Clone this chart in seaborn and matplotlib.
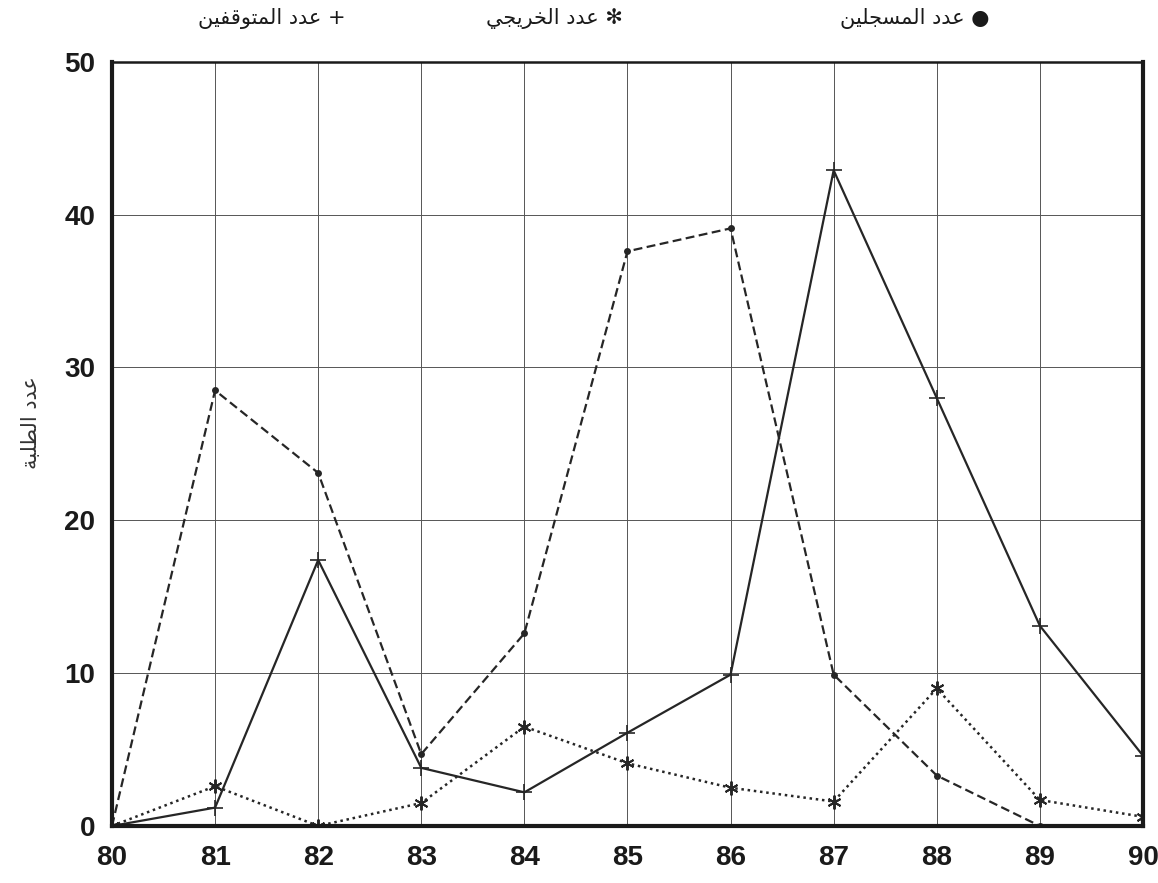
import numpy as np
import pandas as pd
import matplotlib
matplotlib.use("Agg")
import matplotlib.pyplot as plt
import seaborn as sns

# data
years = [80, 81, 82, 83, 84, 85, 86, 87, 88, 89, 90]
registered = [0, 28.5, 23.1, 4.7, 12.6, 37.6, 39.1, 9.9, 3.3, 0, np.nan]
graduates = [0, 2.6, 0, 1.5, 6.5, 4.1, 2.5, 1.6, 9.0, 1.7, 0.6]
dropouts = [0, 1.2, 17.4, 3.8, 2.2, 6.1, 9.9, 42.9, 28.0, 13.1, 4.6]

lbl_registered = "عدد المسجلين"
lbl_graduates = "عدد الخريجي"
lbl_dropouts = "عدد المتوقفين"
lbl_y = "عدد الطلبة"

# minimal arabic shaping (matplotlib has no text shaping)
FORMS = {
    "ا": (0xFE8D, 0xFE8E, None, None),
    "ب": (0xFE8F, 0xFE90, 0xFE91, 0xFE92),
    "ة": (0xFE93, 0xFE94, None, None),
    "ت": (0xFE95, 0xFE96, 0xFE97, 0xFE98),
    "ج": (0xFE9D, 0xFE9E, 0xFE9F, 0xFEA0),
    "خ": (0xFEA5, 0xFEA6, 0xFEA7, 0xFEA8),
    "د": (0xFEA9, 0xFEAA, None, None),
    "ر": (0xFEAD, 0xFEAE, None, None),
    "س": (0xFEB1, 0xFEB2, 0xFEB3, 0xFEB4),
    "ط": (0xFEC1, 0xFEC2, 0xFEC3, 0xFEC4),
    "ع": (0xFEC9, 0xFECA, 0xFECB, 0xFECC),
    "ف": (0xFED1, 0xFED2, 0xFED3, 0xFED4),
    "ق": (0xFED5, 0xFED6, 0xFED7, 0xFED8),
    "ل": (0xFEDD, 0xFEDE, 0xFEDF, 0xFEE0),
    "م": (0xFEE1, 0xFEE2, 0xFEE3, 0xFEE4),
    "ن": (0xFEE5, 0xFEE6, 0xFEE7, 0xFEE8),
    "و": (0xFEED, 0xFEEE, None, None),
    "ي": (0xFEF1, 0xFEF2, 0xFEF3, 0xFEF4),
}


def shape(s):
    out = []
    for i, c in enumerate(s):
        if c not in FORMS:
            out.append(c)
            continue
        prev = s[i - 1] if i > 0 else ""
        nxt = s[i + 1] if i + 1 < len(s) else ""
        jp = prev in FORMS and FORMS[prev][2] is not None
        jn = nxt in FORMS and FORMS[c][2] is not None
        iso, fin, ini, med = FORMS[c]
        if jp and jn:
            code = med
        elif jp:
            code = fin
        elif jn:
            code = ini
        else:
            code = iso
        out.append(chr(code))
    return "".join(out)[::-1]


sns.set_theme(style="white")
plt.rcParams["font.family"] = ["DejaVu Sans"]

df = pd.DataFrame({"year": years, "registered": registered,
                   "graduates": graduates, "dropouts": dropouts})

fig = plt.figure(figsize=(11.58, 8.83), dpi=100)
ax = fig.add_axes([0.0967, 0.0646, 0.8903, 0.8654])

ink = "#262626"
sns.lineplot(data=df, x="year", y="registered", ax=ax, color=ink, lw=1.6,
             linestyle=(0, (4, 2)), marker="o", markersize=5, markeredgewidth=0)
sns.lineplot(data=df, x="year", y="graduates", ax=ax, color=ink, lw=1.8,
             linestyle=(0, (1, 1.5)), marker=(6, 2, 0), markersize=10,
             markeredgewidth=1.4, markeredgecolor=ink)
sns.lineplot(data=df, x="year", y="dropouts", ax=ax, color=ink, lw=1.6,
             linestyle="-", marker="+", markersize=12, markeredgewidth=1.2,
             markeredgecolor=ink)

ax.set_xlim(80, 90)
ax.set_ylim(0, 50)
ax.set_xticks(years)
ax.set_yticks([0, 10, 20, 30, 40, 50])
ax.grid(True, color="#555555", lw=0.7)
ax.set_axisbelow(True)
for side, w in [("left", 3), ("bottom", 3), ("right", 3), ("top", 1.8)]:
    ax.spines[side].set_linewidth(w)
    ax.spines[side].set_color("#1a1a1a")
ax.tick_params(length=0, labelsize=20)
ax.tick_params(axis="x", pad=14)
ax.tick_params(axis="y", pad=12)
for t in ax.get_xticklabels() + ax.get_yticklabels():
    t.set_fontfamily("Liberation Sans")
    t.set_fontweight("bold")
    t.set_color("#1a1a1a")
ax.set_xlabel("")
ax.set_ylabel("")
fig.text(0.027, 0.522, shape(lbl_y), rotation=90, ha="center", va="center",
         fontsize=15, color="#333333")

# legend written across the top, right to left
legend_items = [(0.79, shape(lbl_registered) + " ●"),
                (0.479, shape(lbl_graduates) + " ✻"),
                (0.235, shape(lbl_dropouts) + " +")]
for xpos, txt in legend_items:
    fig.text(xpos, 0.979, txt, ha="center", va="center", fontsize=15,
             color="#1a1a1a")

fig.savefig("out.png", dpi=100, facecolor="white")
